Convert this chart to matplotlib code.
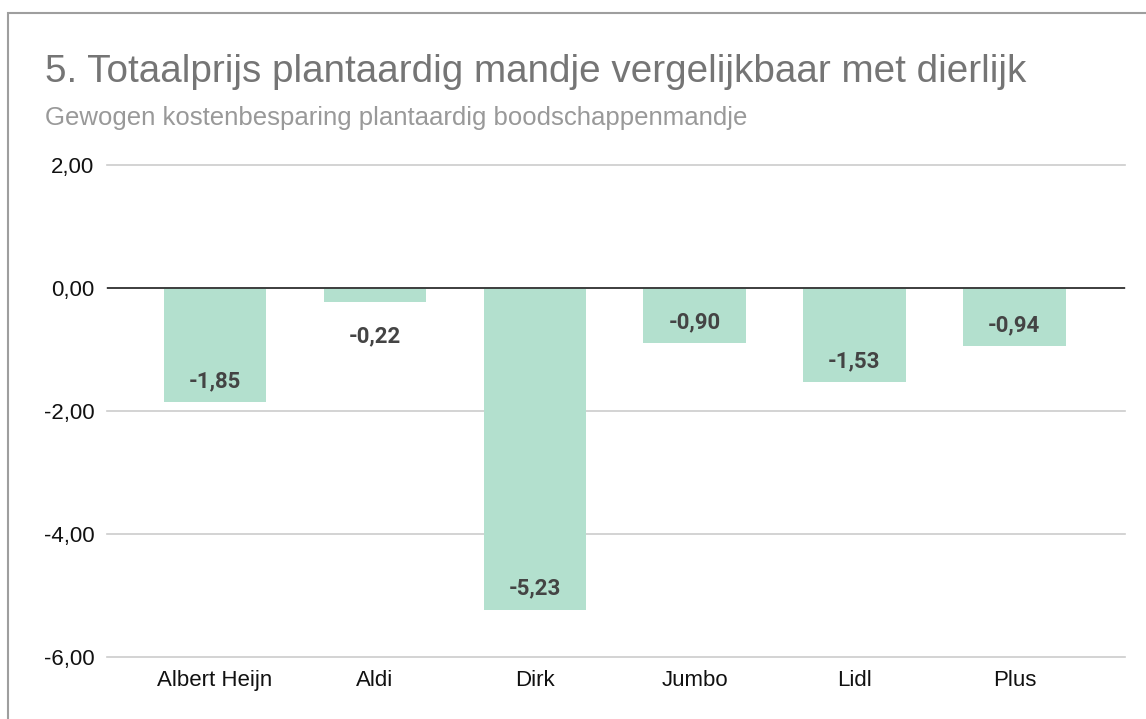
import numpy as np
import matplotlib.pyplot as plt
from matplotlib.patches import Rectangle

winkels = ['Albert Heijn', 'Aldi', 'Dirk', 'Jumbo', 'Lidl', 'Plus']
besparing = [-1.85, -0.22, -5.23, -0.90, -1.53, -0.94]
yticks = [2, 0, -2, -4, -6]

titel = '5. Totaalprijs plantaardig mandje vergelijkbaar met dierlijk'
ondertitel = 'Gewogen kostenbesparing plantaardig boodschappenmandje'

plt.rcParams['font.family'] = ['Liberation Sans', 'DejaVu Sans']

fig = plt.figure(figsize=(11.46, 7.19), dpi=100)
ax = fig.add_axes([0.0934, 0.0862, 0.888, 0.6843])

x = np.arange(len(winkels))
ax.bar(x, besparing, width=0.64, color='#b3e0ce', zorder=2)
ax.axhline(0, color='#333333', lw=1.3, zorder=3)

for xi, v in zip(x, besparing):
    label = ('%.2f' % v).replace('.', ',')
    # kleine balken krijgen het label eronder
    dy = 15 if abs(v) > 0.5 else -25
    ax.annotate(label, (xi, v), xytext=(0, dy), textcoords='offset points',
                ha='center', va='center', fontsize=16, fontweight='bold',
                color='#444444', family=['Roboto', 'DejaVu Sans'], zorder=4)

ax.set_ylim(-6, 2)
ax.set_xlim(-0.675, 5.69)
ax.set_yticks(yticks)
ax.set_yticklabels([('%.2f' % t).replace('.', ',') for t in yticks])
ax.set_xticks(x)
ax.set_xticklabels(winkels)
ax.tick_params(axis='both', length=0, labelsize=16, colors='#111111')
ax.tick_params(axis='y', pad=9)
ax.tick_params(axis='x', pad=9)
ax.grid(axis='y', color='#cccccc', lw=1.2, zorder=0)
for gl in ax.get_ygridlines():
    gl.set_clip_on(False)
for s in ax.spines.values():
    s.set_visible(False)

fig.text(0.039, 0.900, titel, fontsize=27.8, color='#757575', va='center')
fig.text(0.039, 0.836, ondertitel, fontsize=18.5, color='#999999', va='center')

fig.patches.append(Rectangle((0.007, -0.1), 1.2, 1.082, transform=fig.transFigure,
                             fill=False, edgecolor='#9e9e9e', lw=1.5))

plt.savefig('out.png', dpi=100)
